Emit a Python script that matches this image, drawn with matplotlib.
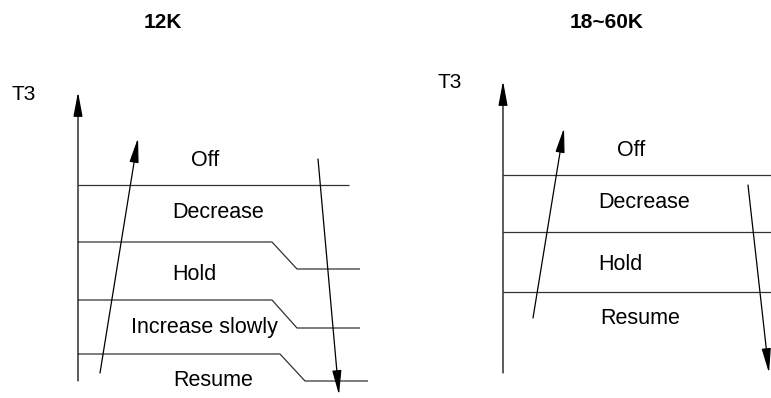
import matplotlib
matplotlib.use('Agg')
from matplotlib import pyplot as plt

plt.rcParams['font.family'] = ['Liberation Sans', 'DejaVu Sans']

# panel titles and zone labels
titles = ['12K', '18~60K']
title_x = [163, 607]

zones_left = ['Off', 'Decrease', 'Hold', 'Increase slowly', 'Resume']
zones_left_x = [205, 218, 194, 204, 213]
zones_left_y = [160, 212, 275, 327, 380]

zones_right = ['Off', 'Decrease', 'Hold', 'Resume']
zones_right_x = [631, 644, 620, 640]
zones_right_y = [151, 203, 265, 319]

# boundary lines (pixel coords, y down): x points and y points per line
bounds_left_x = [[78, 349], [78, 272, 297, 360], [78, 272, 297, 360], [78, 280, 305, 368]]
bounds_left_y = [[185, 185], [242, 242, 269, 269], [300, 300, 328, 328], [354, 354, 381, 381]]

bounds_right_x = [[503, 771], [503, 771], [503, 771]]
bounds_right_y = [[175, 175], [232, 232], [292, 292]]

# arrows: (start, tip)
arrows = [
    ((78, 381), (78, 92)),      # left axis
    ((100, 373), (138, 138)),   # left rising
    ((318, 159), (339, 395)),   # left falling
    ((503, 373), (503, 81)),    # right axis
    ((533, 318), (564, 128)),   # right rising
    ((748, 185), (769, 373)),   # right falling
]

axis_labels = ['T3', 'T3']
axis_label_x = [24, 450]
axis_label_y = [95, 83]

fig = plt.figure(figsize=(7.71, 3.98), dpi=100)
ax = fig.add_axes([0, 0, 1, 1])
ax.set_xlim(0, 771)
ax.set_ylim(398, 0)
ax.axis('off')

for t, x in zip(titles, title_x):
    ax.text(x, 23, t, fontsize=15, fontweight='bold', ha='center', va='center')

for t, x, y in zip(axis_labels, axis_label_x, axis_label_y):
    ax.text(x, y, t, fontsize=15, ha='center', va='center')

for t, x, y in zip(zones_left, zones_left_x, zones_left_y):
    ax.text(x, y, t, fontsize=15.5, ha='center', va='center')
for t, x, y in zip(zones_right, zones_right_x, zones_right_y):
    ax.text(x, y, t, fontsize=15.5, ha='center', va='center')

for xs, ys in zip(bounds_left_x + bounds_right_x, bounds_left_y + bounds_right_y):
    ax.plot(xs, ys, color='#333333', lw=0.9, solid_capstyle='butt')

for start, tip in arrows:
    ax.annotate('', xy=tip, xytext=start,
                arrowprops=dict(arrowstyle='-|>,head_length=1.5,head_width=0.28',
                                mutation_scale=10, color='black', lw=0.9,
                                shrinkA=0, shrinkB=0))

fig.savefig('out.png', dpi=100)
